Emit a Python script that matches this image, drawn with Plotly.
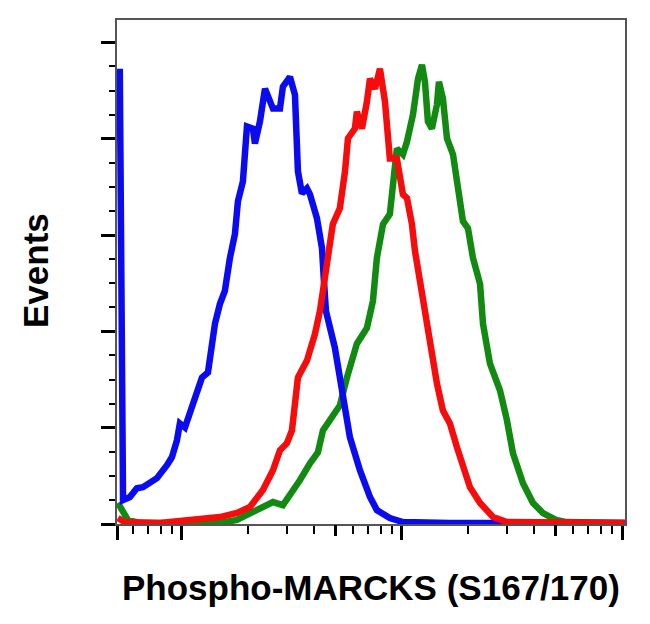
import plotly.graph_objects as go

# ---- data (fluorescence intensity, event counts) ----
blue_x = [522, 540, 580, 624, 665, 770, 855, 900, 949, 979, 1032, 1087, 1170, 1233, 1313, 1340,
          1413, 1489, 1567, 1652, 1741, 1797, 1893, 1975, 2102, 2147, 2262, 2385, 2593, 2790,
          2877, 3097, 3264, 3367, 3510, 3700, 3820, 4108, 4330, 4420, 4514, 4955, 5335, 5800,
          6440, 7155, 7690, 8810, 10100, 16500, 103000]
blue_y = [236.3, 12.4, 14.0, 18.6, 19.1, 23.8, 30.5, 34.6, 43.4, 52.2, 50.1, 57.4, 69.3, 76.0, 78.6, 84.8,
          103.9, 114.3, 121.0, 138.0, 150.4, 167.5, 177.8, 206.3, 205.2, 197.5, 208.9, 225.9, 215.6, 215.6,
          227.0, 232.1, 222.8, 183.0, 171.6, 174.2, 171.1, 158.7, 143.2, 126.1, 110.6, 91.5, 69.3, 45.0,
          27.9, 14.0, 7.2, 3.1, 1.0, 0.5, 0.5]

red_x = [512, 548, 794, 1122, 1489, 1778, 2037, 2334, 2593, 2790, 3000, 3162, 3264, 3367, 3700,
         4023, 4240, 4375, 4560, 4850, 5220, 5510, 5683, 6110, 6240, 6580, 6930, 7155, 7540, 7943,
         8370, 8630, 8810, 9480, 9790, 10100, 10540, 11100, 11460, 12080, 12460, 13400, 14420,
         15350, 16520, 17780, 18930, 20370, 22640, 25930, 30000, 103000]
red_y = [3.1, 1.0, 0.5, 2.1, 3.6, 5.7, 8.8, 17.6, 27.9, 38.3, 41.9, 48.6, 60.5, 76.0, 84.8,
         98.7, 110.6, 121.0, 138.0, 155.6, 163.9, 183.0, 200.1, 205.2, 214.0, 205.2, 219.2, 231.1, 225.9, 236.3,
         219.2, 202.1, 189.7, 189.7, 179.4, 171.1, 169.1, 155.6, 141.7, 126.1, 112.2, 91.5, 72.9,
         58.9, 52.2, 39.8, 29.5, 19.1, 10.9, 3.6, 1.0, 0.5]

green_x = [512, 534, 568, 644, 1489, 1778, 2037, 2334, 2593, 2877, 3162, 3436, 3820, 4150, 4375,
           4710, 5220, 5623, 6240, 6930, 7380, 7690, 8200, 8810, 9100, 9480, 10100, 10540, 11220,
           11830, 12330, 12720, 13120, 13680, 14420, 14720, 15350, 16020, 17060, 17970, 18930,
           19950, 21030, 22640, 23350, 25120, 27900, 30000, 31950, 35480, 39400, 43750, 47100,
           50100, 56200, 103000]
green_y = [10.9, 7.2, 2.1, 0.5, 0.5, 2.1, 5.7, 8.8, 11.4, 9.8, 16.0, 22.7, 31.5, 37.2, 48.6,
           53.8, 61.5, 76.0, 93.6, 101.8, 115.8, 138.0, 155.6, 160.8, 179.4, 194.9, 191.8, 198.5, 212.5,
           231.1, 238.3, 229.5, 208.9, 205.2, 217.7, 229.5, 220.8, 200.1, 191.8, 172.7, 157.2,
           153.5, 138.0, 124.6, 103.9, 83.2, 69.3, 53.8, 36.7, 21.2, 10.9, 5.7, 3.6,
           2.1, 1.0, 0.5]

x_title = "Phospho-MARCKS (S167/170)"
y_title = "Events"

# ---- figure ----
LW = 6.5
fig = go.Figure()
fig.add_trace(go.Scatter(x=green_x, y=green_y, mode="lines",
                         line=dict(color="#128a12", width=LW), hoverinfo="skip"))
fig.add_trace(go.Scatter(x=blue_x, y=blue_y, mode="lines",
                         line=dict(color="#0b0bf0", width=LW), hoverinfo="skip"))
# red (topmost) drawn on an identical overlay x-axis that carries the mid-decade ticks
fig.add_trace(go.Scatter(x=red_x, y=red_y, mode="lines", xaxis="x2",
                         line=dict(color="#f50c0c", width=LW), hoverinfo="skip"))

x_lo_exp, x_hi_exp = 2.705, 5.0136
x_lo = 10 ** x_lo_exp
major_x = [x_lo, 1e3, 1e4, 1e5]
mid_x = [5e3, 5e4]
minor_x = [m * d for d in (100, 1000, 10000) for m in (2, 3, 4, 6, 7, 8, 9) if x_lo < m * d < 1e5]

font = "Liberation Sans, Arial, sans-serif"
fig.update_layout(
    width=642, height=616,
    margin=dict(l=109, r=25, t=10, b=100),
    paper_bgcolor="white", plot_bgcolor="white",
    showlegend=False,
    xaxis=dict(type="log", range=[x_lo_exp, x_hi_exp], showgrid=False, zeroline=False,
               showline=True, linecolor="#555", linewidth=1.5, mirror=True,
               tickmode="array", tickvals=major_x, showticklabels=False,
               ticks="outside", ticklen=14, tickwidth=3, tickcolor="black",
               minor=dict(tickmode="array", tickvals=minor_x, ticks="outside",
                          ticklen=8, tickwidth=2, tickcolor="black", showgrid=False)),
    xaxis2=dict(type="log", range=[x_lo_exp, x_hi_exp], overlaying="x", side="bottom",
                showgrid=False, zeroline=False, showline=False,
                tickmode="array", tickvals=mid_x, showticklabels=False,
                ticks="outside", ticklen=11, tickwidth=3, tickcolor="black"),
    yaxis=dict(range=[0, 261.6], showgrid=False, zeroline=False,
               showline=True, linecolor="#555", linewidth=1.5, mirror=True,
               tick0=0, dtick=50, showticklabels=False,
               ticks="outside", ticklen=14, tickwidth=3, tickcolor="black",
               minor=dict(dtick=12.5, tick0=0, ticks="outside", ticklen=6, tickwidth=2,
                          tickcolor="black", showgrid=False)),
    annotations=[
        dict(text=f"<b>{x_title}</b>", xref="paper", yref="paper", x=0.5, y=-0.1265,
             xanchor="center", yanchor="middle", showarrow=False,
             font=dict(family=font, size=35, color="black")),
        dict(text=f"<b>{y_title}</b>", xref="paper", yref="paper", x=-0.1594, y=0.502,
             xanchor="center", yanchor="middle", showarrow=False, textangle=-90,
             font=dict(family=font, size=35, color="black")),
    ],
)

fig.write_html("out.html")
